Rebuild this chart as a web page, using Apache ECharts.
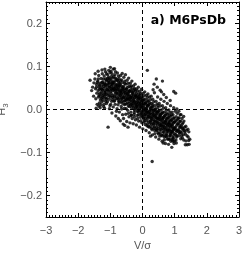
<!DOCTYPE html>
<html><head><meta charset="utf-8">
<script src="https://cdn.jsdelivr.net/npm/echarts@6/dist/echarts.min.js"></script>
<style>html,body{margin:0;padding:0;background:#fff}#c{width:249px;height:253px}</style>
</head><body><div id="c"></div>
<script>
const panelTitle = 'a) M6PsDb';
const xTicks = [-3, -2, -1, 0, 1, 2, 3];
const yTicks = [-0.2, -0.1, 0, 0.1, 0.2];
const refLines = { x: 0, y: 0 };
const scatterPoints = [
[-1.63,0.068],[-1.55,0.052],[-1.52,0.031],[-1.58,0.044],[-1.51,0.062],
[-1.48,0.071],[-1.46,0.048],[-1.45,0.025],[-1.43,0.058],[-1.42,0.038],[-1.41,0.012],[-1.47,0.083],[-1.44,0.003],
[-1.39,0.066],[-1.38,0.044],[-1.37,0.029],[-1.36,0.079],[-1.35,0.053],[-1.34,0.015],[-1.33,0.038],[-1.32,0.061],[-1.31,0.022],[-1.38,0.089],[-1.36,0.008],[-1.34,0.047],[-1.32,0.031],
[-1.29,0.072],[-1.28,0.055],[-1.27,0.041],[-1.26,0.018],[-1.25,0.083],[-1.24,0.064],[-1.23,0.033],[-1.22,0.049],[-1.21,0.007],[-1.28,0.026],[-1.26,0.092],[-1.24,0.045],[-1.22,0.059],[-1.27,0.036],[-1.23,0.022],[-1.29,0.011],
[-1.19,0.078],[-1.18,0.061],[-1.17,0.044],[-1.16,0.027],[-1.15,0.088],[-1.14,0.052],[-1.13,0.035],[-1.12,0.014],[-1.11,0.069],[-1.18,0.003],[-1.16,0.057],[-1.14,0.041],[-1.12,0.083],[-1.19,0.031],[-1.15,0.019],[-1.13,0.066],[-1.17,0.094],[-1.11,0.047],
[-1.09,0.073],[-1.08,0.056],[-1.07,-0.041],[-1.06,0.038],[-1.05,0.091],[-1.04,0.024],[-1.03,0.062],[-1.02,0.045],[-1.01,0.009],[-1.08,0.081],[-1.06,0.067],[-1.04,0.051],[-1.02,0.032],[-1.09,0.018],[-1.05,0.075],[-1.03,0.002],[-1.07,0.059],[-1.01,0.086],[-1.00,0.098],
[-0.99,0.071],[-0.98,0.054],[-0.97,0.037],[-0.96,0.019],[-0.95,0.083],[-0.94,0.061],[-0.93,0.044],[-0.92,0.028],[-0.91,0.006],[-0.98,0.089],[-0.96,0.048],[-0.94,0.032],[-0.92,0.073],[-0.99,0.012],[-0.95,-0.008],[-0.93,0.058],[-0.91,0.094],[-0.97,0.066],
[-0.89,0.063],[-0.88,0.047],[-0.87,0.029],[-0.86,0.081],[-0.85,0.012],[-0.84,0.055],[-0.83,0.038],[-0.82,0.071],[-0.81,-0.004],[-0.88,0.019],[-0.86,0.042],[-0.84,0.088],[-0.82,0.025],[-0.89,0.077],[-0.85,0.059],[-0.83,-0.015],[-0.87,0.095],[-0.81,0.049],
[-0.79,0.067],[-0.78,0.043],[-0.77,0.026],[-0.76,0.011],[-0.75,0.078],[-0.74,0.052],[-0.73,0.034],[-0.72,-0.006],[-0.71,0.061],[-0.78,0.085],[-0.76,0.038],[-0.74,0.019],[-0.72,0.046],[-0.79,0.002],[-0.75,-0.021],[-0.73,0.072],[-0.77,0.056],[-0.71,0.029],
[-0.69,0.058],[-0.68,0.041],[-0.67,0.023],[-0.66,0.007],[-0.65,0.069],[-0.64,0.049],[-0.63,0.031],[-0.62,-0.012],[-0.61,0.052],[-0.68,0.079],[-0.66,0.036],[-0.64,0.015],[-0.62,0.063],[-0.69,-0.026],[-0.65,0.001],[-0.63,0.084],[-0.67,0.044],[-0.61,0.026],[-0.60,-0.034],
[-0.59,0.054],[-0.58,0.037],[-0.57,0.019],[-0.56,0.003],[-0.55,0.066],[-0.54,0.044],[-0.53,0.027],[-0.52,-0.011],[-0.51,0.048],[-0.58,0.075],[-0.56,0.031],[-0.54,0.012],[-0.52,0.059],[-0.59,-0.021],[-0.55,-0.037],[-0.53,0.081],[-0.57,0.041],[-0.51,0.022],
[-0.49,0.047],[-0.48,0.032],[-0.47,0.016],[-0.46,-0.002],[-0.45,0.061],[-0.44,0.039],[-0.43,0.023],[-0.42,-0.017],[-0.41,0.043],[-0.48,0.068],[-0.46,0.027],[-0.44,0.008],[-0.42,0.054],[-0.49,-0.028],[-0.45,-0.041],[-0.43,0.073],[-0.47,0.036],[-0.41,0.014],
[-0.39,0.042],[-0.38,0.026],[-0.37,0.011],[-0.36,-0.006],[-0.35,0.055],[-0.34,0.033],[-0.33,0.018],[-0.32,-0.021],[-0.31,0.038],[-0.38,0.061],[-0.36,0.022],[-0.34,0.004],[-0.32,0.048],[-0.39,-0.031],[-0.35,-0.013],[-0.33,0.066],[-0.37,0.029],[-0.31,0.009],
[-0.29,0.036],[-0.28,0.021],[-0.27,0.006],[-0.26,-0.011],[-0.25,0.049],[-0.24,0.028],[-0.23,0.013],[-0.22,-0.024],[-0.21,0.031],[-0.28,0.055],[-0.26,0.017],[-0.24,-0.002],[-0.22,0.042],[-0.29,-0.033],[-0.25,-0.017],[-0.23,0.059],[-0.27,0.024],[-0.21,0.004],
[-0.19,0.031],[-0.18,0.016],[-0.17,0.002],[-0.16,-0.014],[-0.15,0.043],[-0.14,0.023],[-0.13,0.008],[-0.12,-0.027],[-0.11,0.026],[-0.18,0.048],[-0.16,0.011],[-0.14,-0.006],[-0.12,0.036],[-0.19,-0.036],[-0.15,-0.021],[-0.13,0.052],[-0.17,0.019],[-0.11,-0.001],
[-0.09,0.026],[-0.08,0.011],[-0.07,-0.003],[-0.06,-0.018],[-0.05,0.037],[-0.04,0.018],[-0.03,0.004],[-0.02,-0.031],[-0.01,0.021],[-0.08,0.042],[-0.06,0.006],[-0.04,-0.011],[-0.02,0.029],[-0.09,-0.041],[-0.05,-0.026],[-0.03,0.047],[-0.07,0.014],[-0.01,-0.006],
[0.01,0.021],[0.02,0.006],[0.03,-0.008],[0.04,-0.022],[0.05,0.032],[0.06,0.013],[0.07,-0.001],[0.08,-0.035],[0.09,0.016],[0.02,0.038],[0.04,0.001],[0.06,-0.016],[0.08,0.024],[0.01,-0.045],[0.05,-0.029],[0.07,0.041],[0.03,0.009],[0.09,-0.011],
[0.11,0.016],[0.12,0.001],[0.13,-0.013],[0.14,-0.027],[0.15,0.028],[0.16,0.008],[0.17,-0.006],[0.18,-0.039],[0.19,0.011],[0.12,0.033],[0.14,-0.004],[0.16,-0.021],[0.18,0.019],[0.11,-0.049],[0.15,-0.034],[0.17,0.036],[0.13,0.004],[0.19,-0.016],[0.15,0.091],
[0.21,0.011],[0.22,-0.004],[0.23,-0.018],[0.24,-0.032],[0.25,0.023],[0.26,0.003],[0.27,-0.011],[0.28,-0.044],[0.29,0.006],[0.22,0.029],[0.24,-0.009],[0.26,-0.026],[0.28,0.014],[0.21,-0.054],[0.25,-0.039],[0.27,0.031],[0.23,-0.001],[0.29,-0.021],[0.30,-0.121],[0.25,-0.062],
[0.31,0.006],[0.32,-0.009],[0.33,-0.023],[0.34,-0.037],[0.35,0.018],[0.36,-0.002],[0.37,-0.016],[0.38,-0.049],[0.39,0.001],[0.32,0.024],[0.34,-0.014],[0.36,-0.031],[0.38,0.009],[0.31,-0.059],[0.35,-0.044],[0.37,0.039],[0.33,-0.006],[0.39,-0.026],[0.36,0.059],[0.33,0.046],
[0.41,0.001],[0.42,-0.014],[0.43,-0.028],[0.44,-0.042],[0.45,0.013],[0.46,-0.007],[0.47,-0.021],[0.48,-0.054],[0.49,-0.004],[0.42,0.019],[0.44,-0.019],[0.46,-0.036],[0.48,0.004],[0.41,-0.064],[0.45,-0.049],[0.47,0.029],[0.43,-0.011],[0.49,-0.031],[0.43,0.071],[0.46,0.052],
[0.51,-0.004],[0.52,-0.019],[0.53,-0.033],[0.54,-0.047],[0.55,0.008],[0.56,-0.012],[0.57,-0.026],[0.58,-0.059],[0.59,-0.009],[0.52,0.014],[0.54,-0.024],[0.56,-0.041],[0.58,-0.001],[0.51,-0.069],[0.55,-0.054],[0.57,0.024],[0.53,-0.016],[0.59,-0.036],[0.55,0.045],[0.59,0.041],
[0.61,-0.009],[0.62,-0.024],[0.63,-0.038],[0.64,-0.052],[0.65,0.003],[0.66,-0.017],[0.67,-0.031],[0.68,-0.064],[0.69,-0.014],[0.62,0.009],[0.64,-0.029],[0.66,-0.046],[0.68,-0.006],[0.61,-0.074],[0.65,-0.059],[0.67,0.019],[0.63,-0.021],[0.69,-0.041],[0.62,0.066],[0.66,0.035],[0.64,-0.078],
[0.71,-0.014],[0.72,-0.029],[0.73,-0.043],[0.74,-0.057],[0.75,-0.002],[0.76,-0.022],[0.77,-0.036],[0.78,-0.069],[0.79,-0.019],[0.72,0.004],[0.74,-0.034],[0.76,-0.051],[0.78,-0.011],[0.71,-0.079],[0.75,-0.064],[0.77,0.014],[0.73,-0.026],[0.79,-0.046],[0.74,0.028],
[0.81,-0.019],[0.82,-0.034],[0.83,-0.048],[0.84,-0.062],[0.85,-0.007],[0.86,-0.027],[0.87,-0.041],[0.88,-0.074],[0.89,-0.024],[0.82,-0.001],[0.84,-0.039],[0.86,-0.056],[0.88,-0.016],[0.81,-0.081],[0.85,-0.069],[0.87,0.009],[0.83,-0.031],[0.89,-0.051],[0.86,0.021],
[0.91,-0.024],[0.92,-0.039],[0.93,-0.053],[0.94,-0.067],[0.95,-0.012],[0.96,-0.032],[0.97,-0.046],[0.98,-0.079],[0.99,-0.029],[0.92,-0.006],[0.94,-0.044],[0.96,-0.061],[0.98,-0.021],[0.91,-0.088],[0.95,-0.074],[0.97,0.004],[0.93,-0.036],[0.99,-0.056],[0.97,0.042],
[1.01,-0.029],[1.02,-0.044],[1.03,-0.058],[1.04,-0.071],[1.05,-0.017],[1.06,-0.037],[1.07,-0.051],[1.08,-0.009],[1.09,-0.034],[1.02,-0.004],[1.04,-0.049],[1.06,-0.064],[1.08,-0.024],[1.03,0.038],[1.05,-0.078],[1.07,0.001],
[1.11,-0.032],[1.12,-0.047],[1.13,-0.061],[1.14,-0.019],[1.15,-0.041],[1.16,-0.055],[1.17,-0.012],[1.18,-0.027],[1.19,-0.068],[1.13,-0.004],[1.16,-0.036],[1.18,-0.051],
[1.21,-0.039],[1.22,-0.054],[1.23,-0.021],[1.24,-0.066],[1.25,-0.044],[1.26,-0.031],[1.27,-0.059],[1.28,-0.016],[1.29,-0.049],
[1.31,-0.041],[1.33,-0.057],[1.35,-0.073],[1.37,-0.048],[1.39,-0.082],[1.42,-0.064],[1.45,-0.081],[1.47,-0.069],[1.44,-0.052],
[-1.432,0.052],[-1.377,0.071],[-1.351,0.034],[-1.296,0.049],[-1.264,0.063],[-1.238,0.028],[-1.207,0.054],[-1.183,0.039],[-1.152,0.071],[-1.128,0.024],[-1.094,0.046],[-1.071,0.033],[-1.046,0.063],[-1.018,0.052],[-0.987,0.041],[-0.963,0.077],[-0.941,0.023],[-0.912,0.052],[-0.886,0.034],[-0.861,0.066],[-0.838,0.045],[-0.813,0.031],[-0.789,0.058],[-0.764,0.047],[-0.741,0.064],[-0.716,0.017],[-0.693,0.033],[-0.671,0.055],[-0.648,0.026],[-0.622,0.043],
[-1.405,0.063],[-1.342,0.057],[-1.317,0.004],[-1.273,0.047],[-1.219,0.071],[-1.195,0.012],[-1.166,0.036],[-1.137,0.058],[-1.104,0.027],[-1.062,0.044],[-1.031,0.071],[-0.995,0.029],[-0.972,0.058],[-0.948,0.047],[-0.925,0.064],[-0.897,0.049],[-0.871,0.021],[-0.846,0.073],[-0.827,0.052],[-0.802,0.037],[-0.776,0.069],[-0.752,0.024],[-0.727,0.054],[-0.703,0.041],[-0.682,0.067],[-0.657,0.038],[-0.633,0.019],[-0.611,0.047],
[-0.586,0.028],[-0.563,0.048],[-0.541,0.021],[-0.517,0.036],[-0.494,0.013],[-0.472,0.051],[-0.448,0.025],[-0.426,0.034],[-0.403,0.007],[-0.381,0.045],[-0.357,0.028],[-0.334,0.012],[-0.312,0.027],[-0.288,0.043],[-0.266,0.001],[-0.243,0.019],[-0.221,0.034],[-0.197,0.008],[-0.176,0.026],[-0.153,-0.004],[-0.131,0.015],[-0.108,0.031],[-0.086,0.002],[-0.063,0.024],[-0.041,0.008],[-0.018,-0.014],
[-0.574,0.012],[-0.552,0.061],[-0.529,0.039],[-0.506,0.002],[-0.483,0.024],[-0.461,0.042],[-0.437,-0.009],[-0.414,0.031],[-0.392,0.019],[-0.368,0.052],[-0.346,-0.014],[-0.323,0.041],[-0.301,0.014],[-0.277,0.031],[-0.255,-0.007],[-0.232,0.046],[-0.209,0.011],[-0.187,0.037],[-0.164,0.006],[-0.142,0.029],[-0.119,-0.012],[-0.097,0.018],[-0.074,0.033],[-0.052,-0.008],[-0.029,0.012],[-0.007,0.027],
[0.014,-0.002],[0.037,0.014],[0.059,-0.012],[0.082,0.003],[0.104,-0.021],[0.127,-0.007],[0.149,0.009],[0.172,-0.017],[0.194,-0.029],[0.217,-0.012],[0.239,0.004],[0.262,-0.019],[0.284,-0.033],[0.307,-0.016],[0.329,-0.001],[0.352,-0.027],[0.374,-0.041],[0.397,-0.019],[0.419,-0.034],[0.442,-0.006],[0.464,-0.029],[0.487,-0.044],[0.509,-0.023],[0.532,-0.038],[0.554,-0.014],[0.577,-0.047],[0.599,-0.031],[0.622,-0.044],[0.644,-0.019],[0.667,-0.053],[0.689,-0.034],[0.712,-0.047],[0.734,-0.021],[0.757,-0.059],[0.779,-0.039],[0.802,-0.052],[0.824,-0.026],[0.847,-0.047],[0.869,-0.061],[0.892,-0.036],[0.914,-0.051],[0.937,-0.029],[0.959,-0.066],[0.982,-0.043],
[0.026,-0.019],[0.048,0.022],[0.071,-0.026],[0.093,-0.004],[0.116,0.012],[0.138,-0.038],[0.161,0.021],[0.183,-0.008],[0.206,-0.041],[0.228,0.016],[0.251,-0.026],[0.273,-0.002],[0.296,-0.047],[0.318,0.011],[0.341,-0.033],[0.363,-0.011],[0.386,-0.056],[0.408,-0.004],[0.431,-0.047],[0.453,-0.021],[0.476,0.009],[0.498,-0.057],[0.521,-0.011],[0.543,-0.062],[0.566,-0.036],[0.588,-0.019],[0.611,-0.061],[0.633,-0.006],[0.656,-0.039],[0.678,-0.071],[0.701,-0.027],[0.723,-0.062],[0.746,-0.009],[0.768,-0.048],[0.791,-0.031],[0.813,-0.069],[0.836,-0.014],[0.858,-0.034],[0.881,-0.057],[0.903,-0.012],[0.926,-0.071],[0.948,-0.049],[0.971,-0.019],[0.993,-0.073],
[1.016,-0.041],[1.043,-0.026],[1.067,-0.061],[1.091,-0.048],[1.114,-0.021],[1.138,-0.053],[1.162,-0.028],[1.187,-0.042],[1.213,-0.061],[1.236,-0.034],[1.262,-0.046],[1.287,-0.027],[1.318,-0.052],[1.346,-0.039],[1.382,-0.061],[1.412,-0.046],[1.437,-0.072],[1.331,-0.082],[1.281,-0.071],[1.198,-0.012]
];

const FONT = 'Liberation Sans';
const LBL = '#555';
const minus = v => String(v).replace('-', '\u2212');
const fmtX = v => minus(v);
const fmtY = v => minus((Math.abs(v) < 1e-9 ? 0 : v).toFixed(1));

const baseAxisLine = { show: true, onZero: false, lineStyle: { color: '#000', width: 1 } };
const majTick = { show: true, inside: true, length: 4, lineStyle: { color: '#000', width: 1 } };
const minTickX = { show: true, splitNumber: 10, length: 2, lineStyle: { color: '#000', width: 1 } };
const minTickY = { show: true, splitNumber: 5, length: 2, lineStyle: { color: '#000', width: 1 } };

const chart = echarts.init(document.getElementById('c'), null, { renderer: 'canvas' });
chart.setOption({
  animation: false,
  backgroundColor: '#fff',
  title: {
    text: panelTitle, right: 18, top: 9,
    textStyle: { fontFamily: 'DejaVu Sans', fontWeight: 'bold', fontSize: 12.5, color: '#000' }
  },
  grid: { left: 46, right: 10, top: 2, bottom: 36, outerBoundsMode: 'none', containLabel: false },
  xAxis: [
    { type: 'value', min: -3, max: 3, interval: 1, position: 'bottom',
      axisLine: baseAxisLine, axisTick: majTick, minorTick: minTickX, splitLine: { show: false },
      axisLabel: { formatter: fmtX, color: LBL, fontFamily: FONT, fontSize: 11, margin: 8 },
      name: 'V/\u03C3', nameLocation: 'middle', nameGap: 21,
      nameTextStyle: { color: LBL, fontFamily: FONT, fontSize: 11 } },
    { type: 'value', min: -3, max: 3, interval: 1, position: 'top',
      axisLine: baseAxisLine, axisTick: majTick, minorTick: minTickX, splitLine: { show: false },
      axisLabel: { show: false } }
  ],
  yAxis: [
    { type: 'value', min: -0.25, max: 0.25, interval: 0.05, position: 'left',
      axisLine: baseAxisLine,
      axisTick: Object.assign({}, majTick, { customValues: yTicks }),
      minorTick: minTickY, splitLine: { show: false },
      axisLabel: { customValues: yTicks, formatter: fmtY, color: LBL, fontFamily: FONT, fontSize: 11, margin: 4 },
      name: '{h|H}{s|3}', nameLocation: 'middle', nameGap: 34, nameRotate: 90,
      nameTextStyle: { color: LBL, fontFamily: FONT, fontSize: 11,
        rich: { h: { fontSize: 11, color: LBL, fontFamily: FONT }, s: { fontSize: 8, color: LBL, fontFamily: FONT, padding: [6, 0, 0, 0] } } } },
    { type: 'value', min: -0.25, max: 0.25, interval: 0.05, position: 'right',
      axisLine: baseAxisLine,
      axisTick: Object.assign({}, majTick, { customValues: yTicks }),
      minorTick: minTickY, splitLine: { show: false },
      axisLabel: { show: false } }
  ],
  series: [{
    type: 'scatter', xAxisIndex: 0, yAxisIndex: 0,
    data: scatterPoints, symbol: 'circle', symbolSize: 3.4,
    itemStyle: { color: '#000' },
    markLine: {
      silent: true, symbol: ['none', 'none'], label: { show: false },
      lineStyle: { color: '#000', type: [4, 3], width: 1 },
      data: [{ xAxis: refLines.x }, { yAxis: refLines.y }]
    }
  }]
});
</script></body></html>
